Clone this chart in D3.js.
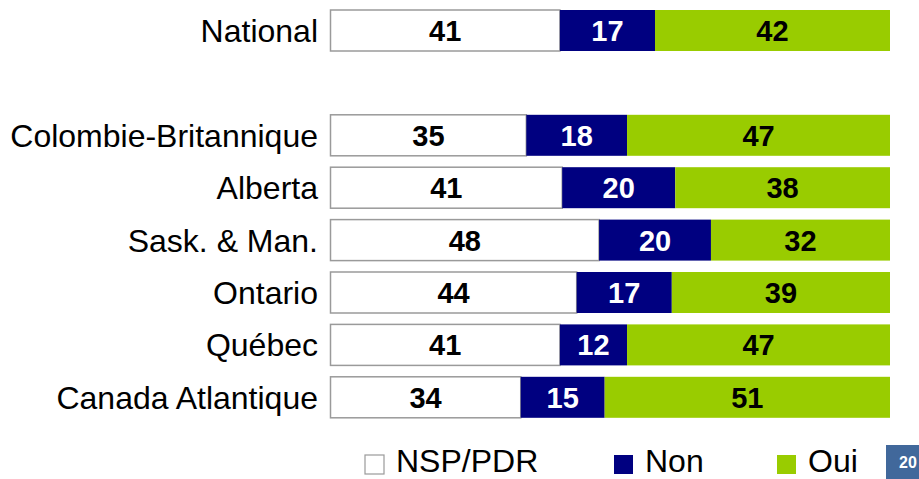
<!DOCTYPE html>
<html>
<head>
<meta charset="utf-8">
<script src="https://cdn.jsdelivr.net/npm/d3@7"></script>
<style>
  html, body { margin: 0; padding: 0; background: #ffffff; }
  svg { display: block; font-family: "Liberation Sans", Arial, sans-serif; }
</style>
</head>
<body>
<svg id="chart" width="919" height="479"></svg>
<script>
// ---- data ----
const categories = ["National", "Colombie-Britannique", "Alberta", "Sask. & Man.", "Ontario", "Québec", "Canada Atlantique"];
const nspValues = [41, 35, 41, 48, 44, 41, 34];
const nonValues = [17, 18, 20, 20, 17, 12, 15];
const ouiValues = [42, 47, 38, 32, 39, 47, 51];
const seriesNames = ["NSP/PDR", "Non", "Oui"];
const pageNumber = "20";

// ---- build table ----
const rows = categories.map((c, i) => ({
  cat: c,
  slot: i === 0 ? 0 : i + 1,   // gap row after National
  "NSP/PDR": nspValues[i],
  "Non": nonValues[i],
  "Oui": ouiValues[i]
}));

const fills = { "NSP/PDR": "#ffffff", "Non": "#000080", "Oui": "#99cc00" };
const textColors = { "NSP/PDR": "#000000", "Non": "#ffffff", "Oui": "#000000" };

const svg = d3.select("#chart");

const step = 52.4, bandH = 41;
const y = d3.scaleBand()
  .domain(d3.range(8))
  .range([10 - (step - bandH) / 2, 10 - (step - bandH) / 2 + 8 * step])
  .paddingInner((step - bandH) / step)
  .paddingOuter((step - bandH) / step / 2);

const x = d3.scaleLinear().domain([0, 1]).range([330.5, 890]);

const stack = d3.stack().keys(seriesNames).offset(d3.stackOffsetExpand);
const stacked = stack(rows);

const g = svg.append("g");

stacked.forEach(layer => {
  const key = layer.key;
  g.append("g").attr("class", "series")
    .selectAll("rect")
    .data(layer)
    .join("rect")
    .attr("x", d => x(d[0]))
    .attr("y", d => y(d.data.slot))
    .attr("width", d => x(d[1]) - x(d[0]))
    .attr("height", y.bandwidth())
    .attr("fill", fills[key])
    .attr("stroke", key === "NSP/PDR" ? "#9a9a9a" : "none")
    .attr("stroke-width", key === "NSP/PDR" ? 1.5 : 0);
});

// value labels
stacked.forEach(layer => {
  const key = layer.key;
  g.append("g").selectAll("text")
    .data(layer)
    .join("text")
    .attr("x", d => (x(d[0]) + x(d[1])) / 2)
    .attr("y", d => y(d.data.slot) + y.bandwidth() / 2)
    .attr("dy", "0.36em")
    .attr("text-anchor", "middle")
    .attr("font-weight", "bold")
    .attr("font-size", 29)
    .attr("fill", textColors[key])
    .text(d => d.data[key]);
});

// category labels
const yAxis = d3.axisLeft(y)
  .tickSize(0)
  .tickPadding(0)
  .tickValues(rows.map(r => r.slot))
  .tickFormat(s => rows.find(r => r.slot === s).cat);
const ax = svg.append("g")
  .attr("transform", "translate(318,0)")
  .call(yAxis);
ax.select(".domain").remove();
ax.selectAll("text")
  .attr("font-size", 32)
  .attr("font-family", "'Liberation Sans', Arial, sans-serif")
  .attr("fill", "#000")
  .attr("dy", "0.36em");

// legend
const legendX = [365, 614, 777];
const legend = svg.append("g");
seriesNames.forEach((s, i) => {
  legend.append("rect")
    .attr("x", legendX[i])
    .attr("y", 455)
    .attr("width", 19)
    .attr("height", 19)
    .attr("fill", fills[s])
    .attr("stroke", s === "NSP/PDR" ? "#9a9a9a" : "none")
    .attr("stroke-width", 1.2);
  legend.append("text")
    .attr("x", legendX[i] + 31)
    .attr("y", 472)
    .attr("font-size", 32)
    .attr("fill", "#000")
    .text(s);
});

// page number box
svg.append("rect")
  .attr("x", 886).attr("y", 445)
  .attr("width", 33).attr("height", 34)
  .attr("fill", "#41689b");
svg.append("text")
  .attr("x", 908).attr("y", 468)
  .attr("text-anchor", "middle")
  .attr("font-size", 16)
  .attr("font-weight", "bold")
  .attr("fill", "#fff")
  .text(pageNumber);
</script>
</body>
</html>
